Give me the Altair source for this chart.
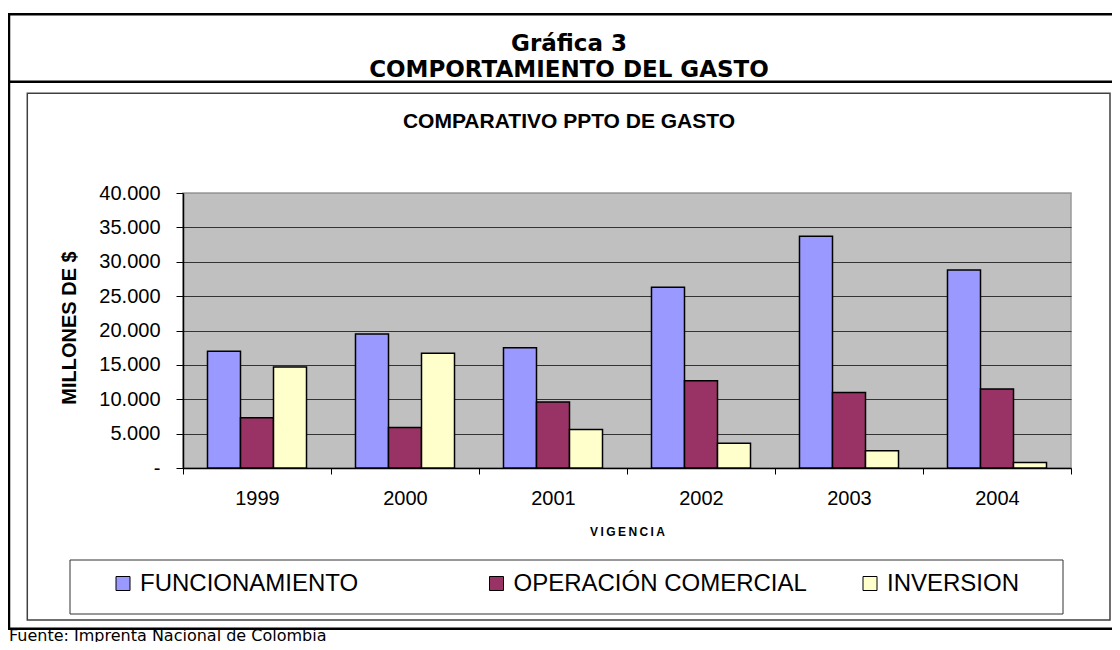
import altair as alt
import pandas as pd

# ---------------- data ----------------
years = ["1999", "2000", "2001", "2002", "2003", "2004"]
series = ["FUNCIONAMIENTO", "OPERACIÓN COMERCIAL", "INVERSION"]
funcionamiento = [17000, 19500, 17500, 26300, 33700, 28800]
operacion_comercial = [7300, 5900, 9600, 12700, 11000, 11500]
inversion = [14700, 16700, 5600, 3600, 2500, 800]
y_ticks = [0, 5000, 10000, 15000, 20000, 25000, 30000, 35000, 40000]
colors = ["#9999FF", "#993366", "#FFFFCC"]

header1 = "Gráfica 3"
header2 = "COMPORTAMIENTO DEL GASTO"
subtitle = "COMPARATIVO PPTO DE GASTO"
y_title = "MILLONES DE $"
x_title = "V\u2009I\u2009G\u2009E\u2009N\u2009C\u2009I\u2009A"
footer = "Fuente: Imprenta Nacional de Colombia"

values_by_series = [funcionamiento, operacion_comercial, inversion]
rows = []
for s, vals in zip(series, values_by_series):
    for yr, v in zip(years, vals):
        rows.append({"year": yr, "serie": s, "value": v})
df = pd.DataFrame(rows)

# plot origin in page coordinates (page margin 8 + padding)
OX, OY = 183, 193


def px(x):
    return x - OX


def py(y):
    return y - OY


one = pd.DataFrame({"k": [0]})

bars = alt.Chart(df).mark_bar(stroke="black", strokeWidth=1.5).encode(
    x=alt.X(
        "year:N",
        sort=years,
        scale=alt.Scale(paddingInner=0, paddingOuter=0),
        axis=alt.Axis(
            labelAngle=0,
            tickBand="extent",
            labelFont="Liberation Sans",
            labelFontSize=20,
            labelColor="black",
            labelPadding=14,
            tickSize=6,
            tickColor="black",
            domainColor="black",
            domainWidth=1.5,
            title=x_title,
            titleFont="Liberation Sans",
            titleFontSize=12,
            titleFontWeight="bold",
            titleColor="black",
            titleX=444,
            titleY=67,
            titleBaseline="alphabetic",
        ),
    ),
    xOffset=alt.XOffset(
        "serie:N",
        sort=series,
        scale=alt.Scale(paddingInner=0, paddingOuter=0.742),
    ),
    y=alt.Y(
        "value:Q",
        scale=alt.Scale(domain=[0, 40000], nice=False),
        axis=alt.Axis(
            values=y_ticks,
            labelExpr="datum.value == 0 ? '-" + "\u00a0" * 4 + "' : replace(format(datum.value, ',.0f'), ',', '.')",
            labelFont="Liberation Sans",
            labelFontSize=20,
            labelColor="black",
            labelPadding=16,
            tickSize=7,
            tickColor="black",
            domainColor="black",
            domainWidth=1.5,
            grid=True,
            gridColor={"condition": {"test": "datum.value >= 40000", "value": "#9a9a9a"}, "value": "#333333"},
            gridWidth=1,
            title=y_title,
            titleFont="Liberation Sans",
            titleFontSize=20,
            titleFontWeight="bold",
            titleColor="black",
            titleX=-108,
            titleY=134.5,
            titleAlign="center",
            titleBaseline="alphabetic",
        ),
    ),
    color=alt.Color(
        "serie:N",
        scale=alt.Scale(domain=series, range=colors),
        legend=alt.Legend(
            orient="none",
            legendX=-72,
            legendY=378.5,
            direction="horizontal",
            columns=3,
            gridAlign="all",
            columnPadding=50.5,
            title=None,
            labelFont="Liberation Sans",
            labelFontSize=24,
            labelColor="black",
            labelLimit=400,
            labelOffset=5,
            symbolType="square",
            symbolSize=196,
            symbolStrokeColor="black",
            symbolStrokeWidth=1,
            padding=0,
        ),
    ),
)


def hrule(y, x1, x2, color="black", width=2.5):
    return alt.Chart(one).mark_rule(color=color, strokeWidth=width).encode(
        x=alt.value(px(x1)), x2=alt.value(px(x2)), y=alt.value(py(y))
    )


def vrule(x, y1, y2, color="black", width=2.5):
    return alt.Chart(one).mark_rule(color=color, strokeWidth=width).encode(
        x=alt.value(px(x)), y=alt.value(py(y1)), y2=alt.value(py(y2))
    )


def box(x1, y1, x2, y2, color, width):
    return alt.Chart(one).mark_rect(fillOpacity=0, stroke=color, strokeWidth=width).encode(
        x=alt.value(px(x1)), x2=alt.value(px(x2)), y=alt.value(py(y1)), y2=alt.value(py(y2))
    )


def label(text, x, y, size, font, weight="normal", align="center"):
    return alt.Chart(one).mark_text(
        font=font, fontSize=size, fontWeight=weight, align=align,
        baseline="alphabetic", color="black"
    ).encode(x=alt.value(px(x)), y=alt.value(py(y)), text=alt.value(text))


frame = [
    hrule(14.3, 8, 1125),
    hrule(81.8, 8, 1125),
    hrule(628.8, 0, 1125),
    vrule(9, 13, 630),
    box(27.3, 93.3, 1110, 620, "#404040", 1.5),
    box(70, 560, 1063, 614, "#333333", 1),
]

texts = [
    label(header1, 569, 50.5, 23, "DejaVu Sans", "bold"),
    label(header2, 569, 77.3, 23, "DejaVu Sans", "bold"),
    label(subtitle, 569, 128, 21, "Liberation Sans", "bold"),
    label(footer, 9, 641, 16, "DejaVu Sans", "normal", "left"),
]

chart = alt.layer(*frame, *texts, bars).properties(
    width=888,
    height=275,
    autosize=alt.AutoSizeParams(type="none"),
    padding={"left": 175, "top": 185, "right": 41, "bottom": 174},
    background="white",
).configure_view(
    fill="#C0C0C0", stroke="#9a9a9a", strokeWidth=1.5
)

chart.save("out.html", embed_options={"renderer": "svg", "actions": False})
